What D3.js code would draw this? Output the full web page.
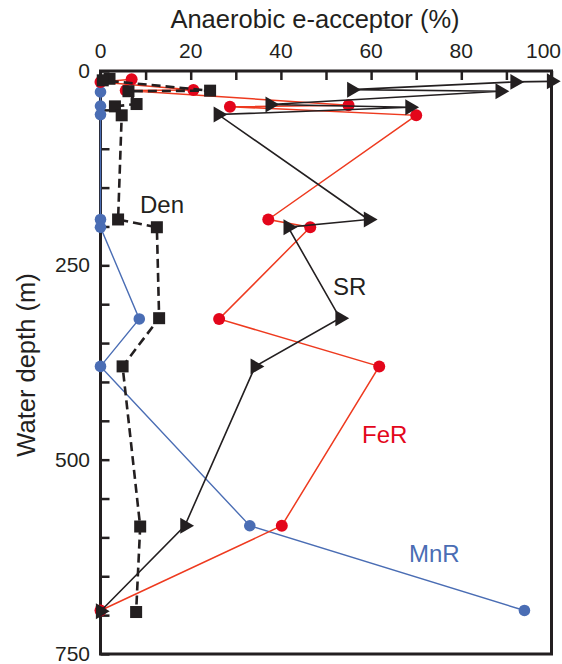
<!DOCTYPE html>
<html>
<head>
<meta charset="utf-8">
<script src="https://cdn.jsdelivr.net/npm/d3@7"></script>
<style>
  html, body { margin: 0; padding: 0; background: #fff; }
  svg { display: block; font-family: "Liberation Sans", Arial, sans-serif; }
</style>
</head>
<body>
<svg id="chart" width="562" height="664"></svg>
<script>
// values (percent of anaerobic e-acceptor vs water depth)
const mnrDepth = [27, 45, 56, 191, 201, 319, 380, 585, 694];
const mnrValue = [0, 0, 0, 0, 0, 8.6, 0, 33.1, 94];

const ferDepth = [10.7, 14, 24.5, 25, 44, 46, 57, 191, 201, 319, 380, 585, 694];
const ferValue = [6.9, 0, 20.6, 5.6, 55, 28.7, 70, 37.2, 46.5, 26.3, 61.8, 40.2, 0];

const srDepth = [13.3, 14, 24, 26, 43, 46.7, 56, 191, 201, 318, 380, 585, 695];
const srValue = [100, 91.9, 55.7, 88.6, 37.6, 68.6, 26.1, 59.4, 41.6, 53.1, 34.3, 18.7, 0];

const denDepth = [10, 12, 25.3, 26, 42.5, 45.5, 57, 191, 201, 318, 380, 586, 696];
const denValue = [2, 0.5, 24.3, 6.2, 8, 3.2, 4.7, 3.9, 12.5, 13, 4.9, 8.8, 7.9];

const xTicks = [0, 10, 20, 30, 40, 50, 60, 70, 80, 90, 100];
const xLabels = [0, 20, 40, 60, 80, 100];
const yTicks = d3.range(0, 751, 50);
const yLabels = [0, 250, 500, 750];

const red = '#e3061b', blue = '#4a6db4', black = '#231f20';

const svg = d3.select('#chart');
const x = d3.scaleLinear().domain([0, 100]).range([100.5, 551.5]);
const y = d3.scaleLinear().domain([0, 750]).range([71, 654]);

const zip = (vals, deps) => vals.map((v, i) => ({ v, d: deps[i] }));
const line = d3.line().x(p => x(p.v)).y(p => y(p.d));

// frame
svg.append('rect')
  .attr('x', x(0)).attr('y', y(0))
  .attr('width', x(100) - x(0)).attr('height', y(750) - y(0))
  .attr('fill', 'none').attr('stroke', black).attr('stroke-width', 3);

// top axis, ticks inward
const xAxis = svg.append('g').attr('transform', `translate(0,${y(0)})`)
  .call(d3.axisBottom(x).tickValues(xTicks).tickSize(9).tickFormat(''));
xAxis.select('.domain').remove();
xAxis.selectAll('line').attr('stroke', black).attr('stroke-width', 2.5);

// last label sits flush with the right edge of the page
svg.append('g').selectAll('text').data(xLabels).join('text')
  .attr('x', d => d === 100 ? 561 : x(d)).attr('y', 58)
  .attr('text-anchor', d => d === 100 ? 'end' : 'middle')
  .attr('font-size', 21).attr('fill', black)
  .text(d => d);

// left axis, ticks inward
const yAxis = svg.append('g').attr('transform', `translate(${x(0)},0)`)
  .call(d3.axisRight(y).tickValues(yTicks).tickSize(9).tickFormat(''));
yAxis.select('.domain').remove();
yAxis.selectAll('line').attr('stroke', black).attr('stroke-width', 2.5);

svg.append('g').selectAll('text').data(yLabels).join('text')
  .attr('x', 90).attr('y', d => y(d) + 7)
  .attr('text-anchor', 'end').attr('font-size', 21).attr('fill', black)
  .text(d => d);

// axis titles
svg.append('text').attr('x', 315).attr('y', 28)
  .attr('text-anchor', 'middle').attr('font-size', 25.5).attr('fill', black)
  .text('Anaerobic e-acceptor (%)');
svg.append('text')
  .attr('transform', `translate(35,${365}) rotate(-90)`)
  .attr('text-anchor', 'middle').attr('font-size', 25.5).attr('fill', black)
  .text('Water depth (m)');

// MnR
const mnr = zip(mnrValue, mnrDepth);
svg.append('path').datum(mnr).attr('d', line)
  .attr('fill', 'none').attr('stroke', blue).attr('stroke-width', 1.4);
svg.append('g').selectAll('circle').data(mnr).join('circle')
  .attr('cx', p => x(p.v)).attr('cy', p => y(p.d)).attr('r', 5.8).attr('fill', blue);

// FeR
const fer = zip(ferValue, ferDepth);
svg.append('path').datum(fer).attr('d', line)
  .attr('fill', 'none').attr('stroke', '#ee3a1f').attr('stroke-width', 1.5);
svg.append('g').selectAll('circle').data(fer).join('circle')
  .attr('cx', p => x(p.v)).attr('cy', p => y(p.d)).attr('r', 6).attr('fill', red);

// SR
const sr = zip(srValue, srDepth);
svg.append('path').datum(sr).attr('d', line)
  .attr('fill', 'none').attr('stroke', black).attr('stroke-width', 1.6);
const tri = d3.symbol().type(d3.symbolTriangle).size(110);
svg.append('g').selectAll('path').data(sr).join('path')
  .attr('d', tri)
  .attr('transform', p => `translate(${x(p.v)},${y(p.d)}) rotate(90)`)
  .attr('fill', black);

// Den
const den = zip(denValue, denDepth);
svg.append('path').datum(den).attr('d', line)
  .attr('fill', 'none').attr('stroke', black).attr('stroke-width', 2.6)
  .attr('stroke-dasharray', '9,5');
svg.append('g').selectAll('rect').data(den).join('rect')
  .attr('x', p => x(p.v) - 6).attr('y', p => y(p.d) - 6)
  .attr('width', 12).attr('height', 12).attr('fill', black);

// series labels
const labels = [
  { t: 'Den', x: 140, y: 213, c: black },
  { t: 'SR', x: 333, y: 295, c: black },
  { t: 'FeR', x: 362, y: 443, c: '#e3061b' },
  { t: 'MnR', x: 409, y: 562, c: blue }
];
svg.append('g').selectAll('text').data(labels).join('text')
  .attr('x', d => d.x).attr('y', d => d.y)
  .attr('font-size', 24).attr('fill', d => d.c)
  .text(d => d.t);
</script>
</body>
</html>
